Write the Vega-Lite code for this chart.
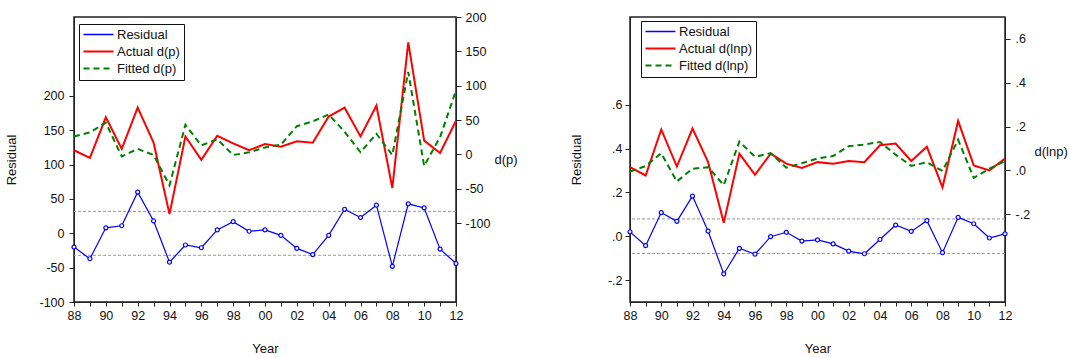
{
  "$schema": "https://vega.github.io/schema/vega-lite/v6.json",
  "padding": {"left": 5, "top": 10, "right": 0, "bottom": 0},
  "background": "white",
  "config": {
    "font": "Liberation Sans",
    "view": {"stroke": "#222", "strokeWidth": 1.5},
    "axis": {
      "labelFont": "Liberation Sans", "labelFontSize": 12.5, "labelColor": "#111",
      "titleFont": "Liberation Sans", "titleFontSize": 13, "titleFontWeight": "normal", "titleColor": "#111",
      "domainColor": "#222", "tickColor": "#222", "tickSize": 5, "grid": false, "labelOverlap": false, "labelFlush": false
    },
    "legend": {
      "labelFont": "Liberation Sans", "labelFontSize": 13, "labelColor": "#111"
    }
  },
  "datasets": {
    "dp": [
      {"year": 1988, "resid": -20, "actual": 6, "fitted": 26},
      {"year": 1989, "resid": -37, "actual": -5, "fitted": 32},
      {"year": 1990, "resid": 8, "actual": 54, "fitted": 46},
      {"year": 1991, "resid": 11, "actual": 8, "fitted": -3},
      {"year": 1992, "resid": 60, "actual": 68, "fitted": 8},
      {"year": 1993, "resid": 18, "actual": 17, "fitted": -1},
      {"year": 1994, "resid": -42, "actual": -87, "fitted": -45},
      {"year": 1995, "resid": -17, "actual": 26, "fitted": 43},
      {"year": 1996, "resid": -21, "actual": -8, "fitted": 13},
      {"year": 1997, "resid": 5, "actual": 27, "fitted": 22},
      {"year": 1998, "resid": 17, "actual": 16, "fitted": -1},
      {"year": 1999, "resid": 3, "actual": 6, "fitted": 3},
      {"year": 2000, "resid": 5, "actual": 15, "fitted": 10},
      {"year": 2001, "resid": -3, "actual": 11, "fitted": 14},
      {"year": 2002, "resid": -22, "actual": 19, "fitted": 41},
      {"year": 2003, "resid": -31, "actual": 17, "fitted": 48},
      {"year": 2004, "resid": -3, "actual": 55, "fitted": 58},
      {"year": 2005, "resid": 35, "actual": 68, "fitted": 33},
      {"year": 2006, "resid": 23, "actual": 26, "fitted": 3},
      {"year": 2007, "resid": 41, "actual": 71, "fitted": 30},
      {"year": 2008, "resid": -48, "actual": -49, "fitted": -1},
      {"year": 2009, "resid": 43, "actual": 163, "fitted": 120},
      {"year": 2010, "resid": 37, "actual": 20, "fitted": -17},
      {"year": 2011, "resid": -23, "actual": 2, "fitted": 25},
      {"year": 2012, "resid": -44, "actual": 49, "fitted": 93}
    ],
    "dlnp": [
      {"year": 1988, "resid": 0.020, "actual": 0.015, "fitted": -0.005},
      {"year": 1989, "resid": -0.043, "actual": -0.023, "fitted": 0.020},
      {"year": 1990, "resid": 0.108, "actual": 0.187, "fitted": 0.079},
      {"year": 1991, "resid": 0.068, "actual": 0.018, "fitted": -0.050},
      {"year": 1992, "resid": 0.183, "actual": 0.191, "fitted": 0.008},
      {"year": 1993, "resid": 0.023, "actual": 0.038, "fitted": 0.015},
      {"year": 1994, "resid": -0.172, "actual": -0.239, "fitted": -0.067},
      {"year": 1995, "resid": -0.055, "actual": 0.077, "fitted": 0.132},
      {"year": 1996, "resid": -0.082, "actual": -0.020, "fitted": 0.062},
      {"year": 1997, "resid": -0.002, "actual": 0.077, "fitted": 0.079},
      {"year": 1998, "resid": 0.018, "actual": 0.031, "fitted": 0.013},
      {"year": 1999, "resid": -0.022, "actual": 0.011, "fitted": 0.033},
      {"year": 2000, "resid": -0.017, "actual": 0.038, "fitted": 0.055},
      {"year": 2001, "resid": -0.035, "actual": 0.031, "fitted": 0.066},
      {"year": 2002, "resid": -0.068, "actual": 0.043, "fitted": 0.111},
      {"year": 2003, "resid": -0.080, "actual": 0.038, "fitted": 0.118},
      {"year": 2004, "resid": -0.015, "actual": 0.115, "fitted": 0.130},
      {"year": 2005, "resid": 0.051, "actual": 0.123, "fitted": 0.072},
      {"year": 2006, "resid": 0.022, "actual": 0.043, "fitted": 0.021},
      {"year": 2007, "resid": 0.071, "actual": 0.108, "fitted": 0.037},
      {"year": 2008, "resid": -0.075, "actual": -0.077, "fitted": -0.002},
      {"year": 2009, "resid": 0.086, "actual": 0.226, "fitted": 0.140},
      {"year": 2010, "resid": 0.057, "actual": 0.023, "fitted": -0.034},
      {"year": 2011, "resid": -0.008, "actual": 0.000, "fitted": 0.008},
      {"year": 2012, "resid": 0.011, "actual": 0.054, "fitted": 0.043}
    ],
    "refdp": [{"ref": 32}, {"ref": -32}],
    "refdlnp": [{"ref": 0.079}, {"ref": -0.079}]
  },
  "bounds": "flush",
  "spacing": 174,
  "resolve": {"scale": {"color": "independent", "y": "independent", "x": "independent"}, "legend": {"color": "independent"}},
  "hconcat": [
    {
      "width": 382,
      "height": 285,
      "data": {"name": "dp"},
      "encoding": {
        "x": {
          "field": "year", "type": "quantitative",
          "scale": {"domain": [1988, 2012], "nice": false, "zero": false},
          "axis": {
            "title": "Year", "values": [1988,1989,1990,1991,1992,1993,1994,1995,1996,1997,1998,1999,2000,2001,2002,2003,2004,2005,2006,2007,2008,2009,2010,2011,2012],
            "labelExpr": "datum.value % 2 == 0 ? substring(toString(datum.value), 2, 4) : ''",
            "tickSize": 4, "labelPadding": 3, "titlePadding": 21
          }
        }
      },
      "layer": [
        {
          "mark": {"type": "rule", "stroke": "#666", "strokeWidth": 1},
          "encoding": {"y": {"datum": 0, "type": "quantitative", "scale": {"domain": [-100, 315], "nice": false, "zero": false}, "axis": null}}
        },
        {
          "data": {"name": "refdp"},
          "mark": {"type": "rule", "stroke": "#999", "strokeWidth": 1, "strokeDash": [3, 2]},
          "encoding": {"x": null, "y": {"field": "ref", "type": "quantitative", "scale": {"domain": [-100, 315], "nice": false, "zero": false}, "axis": null}}
        },
        {
          "mark": {"type": "line", "strokeWidth": 1.2, "point": {"filled": false, "size": 16, "strokeWidth": 1.2, "fill": "white"}},
          "encoding": {
            "y": {"field": "resid", "type": "quantitative", "scale": {"domain": [-100, 315], "nice": false, "zero": false},
              "axis": {"orient": "left", "title": "Residual", "values": [-100, -50, 0, 50, 100, 150, 200], "labelExpr": "toString(datum.value)", "labelPadding": 5, "titlePadding": 20}},
            "color": {"datum": "Residual", "type": "nominal",
              "scale": {"domain": ["Residual", "Actual d(p)", "Fitted d(p)"], "range": ["#0000FF", "#FF0000", "#008000"]},
              "legend": {"title": null, "orient": "none", "legendX": 5, "legendY": 7, "symbolType": "stroke", "symbolSize": 900, "symbolStrokeWidth": 2,
                "strokeColor": "#111", "fillColor": "white", "padding": 4, "rowPadding": 3, "labelOffset": 12, "symbolOffset": 9,
                "encode": {"symbols": {"update": {
                  "stroke": {"signal": "datum.value == 'Residual' ? '#2020FF' : datum.value == 'Actual d(p)' ? '#FF0000' : '#008000'"},
                  "strokeDash": {"signal": "datum.value == 'Fitted d(p)' ? [6, 4] : [1, 0]"},
                  "strokeWidth": {"signal": "datum.value == 'Residual' ? 1.5 : 2"}}}}}}
          }
        },
        {
          "mark": {"type": "line", "strokeWidth": 2},
          "encoding": {
            "y": {"field": "actual", "type": "quantitative", "scale": {"domain": [-215, 200], "nice": false, "zero": false},
              "axis": {"orient": "right", "title": "d(p)", "values": [-100, -50, 0, 50, 100, 150, 200], "labelExpr": "toString(datum.value)", "labelPadding": 4,
                "titleAngle": 0, "titleAlign": "left", "titleBaseline": "middle", "titleX": 38, "titleY": 142}},
            "color": {"datum": "Actual d(p)", "type": "nominal", "scale": {"domain": ["Residual", "Actual d(p)", "Fitted d(p)"], "range": ["#0000FF", "#FF0000", "#008000"]}}
          }
        },
        {
          "mark": {"type": "line", "strokeWidth": 2, "strokeDash": [6, 4]},
          "encoding": {
            "y": {"field": "fitted", "type": "quantitative", "scale": {"domain": [-215, 200], "nice": false, "zero": false}, "axis": null},
            "color": {"datum": "Fitted d(p)", "type": "nominal", "scale": {"domain": ["Residual", "Actual d(p)", "Fitted d(p)"], "range": ["#0000FF", "#FF0000", "#008000"]}}
          }
        }
      ],
      "resolve": {"scale": {"y": "independent"}}
    },
    {
      "width": 375,
      "height": 285,
      "data": {"name": "dlnp"},
      "encoding": {
        "x": {
          "field": "year", "type": "quantitative",
          "scale": {"domain": [1988, 2012], "nice": false, "zero": false},
          "axis": {
            "title": "Year", "values": [1988,1989,1990,1991,1992,1993,1994,1995,1996,1997,1998,1999,2000,2001,2002,2003,2004,2005,2006,2007,2008,2009,2010,2011,2012],
            "labelExpr": "datum.value % 2 == 0 ? substring(toString(datum.value), 2, 4) : ''",
            "tickSize": 4, "labelPadding": 3, "titlePadding": 21
          }
        }
      },
      "layer": [
        {
          "mark": {"type": "rule", "stroke": "#666", "strokeWidth": 1},
          "encoding": {"y": {"datum": 0, "type": "quantitative", "scale": {"domain": [-0.3, 1.0], "nice": false, "zero": false}, "axis": null}}
        },
        {
          "data": {"name": "refdlnp"},
          "mark": {"type": "rule", "stroke": "#999", "strokeWidth": 1, "strokeDash": [3, 2]},
          "encoding": {"x": null, "y": {"field": "ref", "type": "quantitative", "scale": {"domain": [-0.3, 1.0], "nice": false, "zero": false}, "axis": null}}
        },
        {
          "mark": {"type": "line", "strokeWidth": 1.2, "point": {"filled": false, "size": 16, "strokeWidth": 1.2, "fill": "white"}},
          "encoding": {
            "y": {"field": "resid", "type": "quantitative", "scale": {"domain": [-0.3, 1.0], "nice": false, "zero": false},
              "axis": {"orient": "left", "title": "Residual", "values": [-0.2, 0, 0.2, 0.4, 0.6], "labelExpr": "datum.value == 0 ? '.0' : replace(toString(datum.value), '0.', '.')", "labelPadding": 3, "titlePadding": 24}},
            "color": {"datum": "Residual", "type": "nominal",
              "scale": {"domain": ["Residual", "Actual d(lnp)", "Fitted d(lnp)"], "range": ["#0000FF", "#FF0000", "#008000"]},
              "legend": {"title": null, "orient": "none", "legendX": 11, "legendY": 4, "symbolType": "stroke", "symbolSize": 900, "symbolStrokeWidth": 2,
                "strokeColor": "#111", "fillColor": "white", "padding": 4, "rowPadding": 3, "labelOffset": 12, "symbolOffset": 9,
                "encode": {"symbols": {"update": {
                  "stroke": {"signal": "datum.value == 'Residual' ? '#2020FF' : datum.value == 'Actual d(lnp)' ? '#FF0000' : '#008000'"},
                  "strokeDash": {"signal": "datum.value == 'Fitted d(lnp)' ? [6, 4] : [1, 0]"},
                  "strokeWidth": {"signal": "datum.value == 'Residual' ? 1.5 : 2"}}}}}}
          }
        },
        {
          "mark": {"type": "line", "strokeWidth": 2},
          "encoding": {
            "y": {"field": "actual", "type": "quantitative", "scale": {"domain": [-0.6, 0.7], "nice": false, "zero": false},
              "axis": {"orient": "right", "title": "d(lnp)", "values": [-0.2, 0, 0.2, 0.4, 0.6], "labelExpr": "datum.value == 0 ? '.0' : replace(toString(datum.value), '0.', '.')", "labelPadding": 5,
                "titleAngle": 0, "titleAlign": "left", "titleBaseline": "middle", "titleX": 29, "titleY": 134}},
            "color": {"datum": "Actual d(lnp)", "type": "nominal", "scale": {"domain": ["Residual", "Actual d(lnp)", "Fitted d(lnp)"], "range": ["#0000FF", "#FF0000", "#008000"]}}
          }
        },
        {
          "mark": {"type": "line", "strokeWidth": 2, "strokeDash": [6, 4]},
          "encoding": {
            "y": {"field": "fitted", "type": "quantitative", "scale": {"domain": [-0.6, 0.7], "nice": false, "zero": false}, "axis": null},
            "color": {"datum": "Fitted d(lnp)", "type": "nominal", "scale": {"domain": ["Residual", "Actual d(lnp)", "Fitted d(lnp)"], "range": ["#0000FF", "#FF0000", "#008000"]}}
          }
        }
      ],
      "resolve": {"scale": {"y": "independent"}}
    }
  ]
}
